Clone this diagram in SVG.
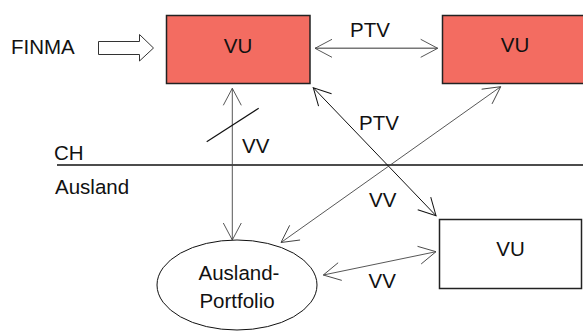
<svg xmlns="http://www.w3.org/2000/svg" width="583" height="331" viewBox="0 0 583 331">
  <style>
    text { font-family: "Liberation Sans", Arial, sans-serif; font-size: 20.5px; fill: #111; }
    .mid { text-anchor: middle; }
    .box { stroke: #222; stroke-width: 1.5; }
    .red { fill: #f36c61; }
    .white { fill: #fff; }
    .conn { fill: none; }
    .grey { stroke: #444; stroke-width: 0.9; }
    .dark { stroke: #111; stroke-width: 1; }
  </style>
  <defs>
    <marker id="headGrey" markerUnits="userSpaceOnUse" viewBox="-18 -10 20 20" refX="0" refY="0" markerWidth="20" markerHeight="20" orient="auto-start-reverse">
      <path d="M-17,-9 L0,0 L-17,9" fill="none" stroke="#444" stroke-width="0.9"/>
    </marker>
    <marker id="headDark" markerUnits="userSpaceOnUse" viewBox="-18 -10 20 20" refX="0" refY="0" markerWidth="20" markerHeight="20" orient="auto-start-reverse">
      <path d="M-17,-9 L0,0 L-17,9" fill="none" stroke="#111" stroke-width="1"/>
    </marker>
  </defs>

  <rect width="583" height="331" fill="#fff"/>

  <!-- border between CH and abroad -->
  <g id="border">
    <line x1="57" y1="165" x2="583" y2="165" stroke="#111" stroke-width="1.6"/>
    <text x="54" y="160">CH</text>
    <text x="55" y="194">Ausland</text>
  </g>

  <!-- supervisor -->
  <g id="finma">
    <text x="11" y="54">FINMA</text>
    <path d="M98.5,41.5 H139.5 V34.5 L153.5,48 L139.5,61 V54.5 H98.5 Z" fill="#fff" stroke="#333" stroke-width="1"/>
  </g>

  <g id="vu-ch-left">
    <rect class="box red" x="166.5" y="15.5" width="143.5" height="68"/>
    <text class="mid" x="238" y="53">VU</text>
  </g>

  <g id="vu-ch-right">
    <rect class="box red" x="442.5" y="15.5" width="150" height="68"/>
    <text class="mid" x="515" y="52">VU</text>
  </g>

  <g id="vu-abroad">
    <rect class="box white" x="439.5" y="219.5" width="142" height="69"/>
    <text class="mid" x="510.5" y="256">VU</text>
  </g>

  <g id="portfolio">
    <ellipse cx="237" cy="285" rx="80" ry="45" fill="#fff" stroke="#111" stroke-width="1"/>
    <text class="mid" x="239" y="280">Ausland-</text>
    <text class="mid" x="237" y="308">Portfolio</text>
  </g>

  <g id="connectors">
    <line class="conn grey" x1="232.3" y1="88.3" x2="232.3" y2="240" marker-start="url(#headGrey)" marker-end="url(#headGrey)"/>
    <line x1="206.7" y1="141.7" x2="258.7" y2="108.3" stroke="#111" stroke-width="1.2"/>
    <line class="conn" x1="315" y1="48.3" x2="437.7" y2="48.3" stroke="#777" stroke-width="1.6" marker-start="url(#headGrey)" marker-end="url(#headGrey)"/>
    <line class="conn dark" x1="313.3" y1="87.7" x2="436" y2="215.7" marker-start="url(#headDark)" marker-end="url(#headDark)"/>
    <line class="conn grey" x1="500.7" y1="86.7" x2="281" y2="242.5" marker-start="url(#headGrey)" marker-end="url(#headGrey)"/>
    <line class="conn grey" x1="323.3" y1="275" x2="436" y2="251.7" marker-start="url(#headGrey)" marker-end="url(#headGrey)"/>
    <text x="350" y="37">PTV</text>
    <text x="242" y="153">VV</text>
    <text x="359" y="129.5">PTV</text>
    <text x="369" y="207">VV</text>
    <text x="368.5" y="287.5">VV</text>
  </g>
</svg>
